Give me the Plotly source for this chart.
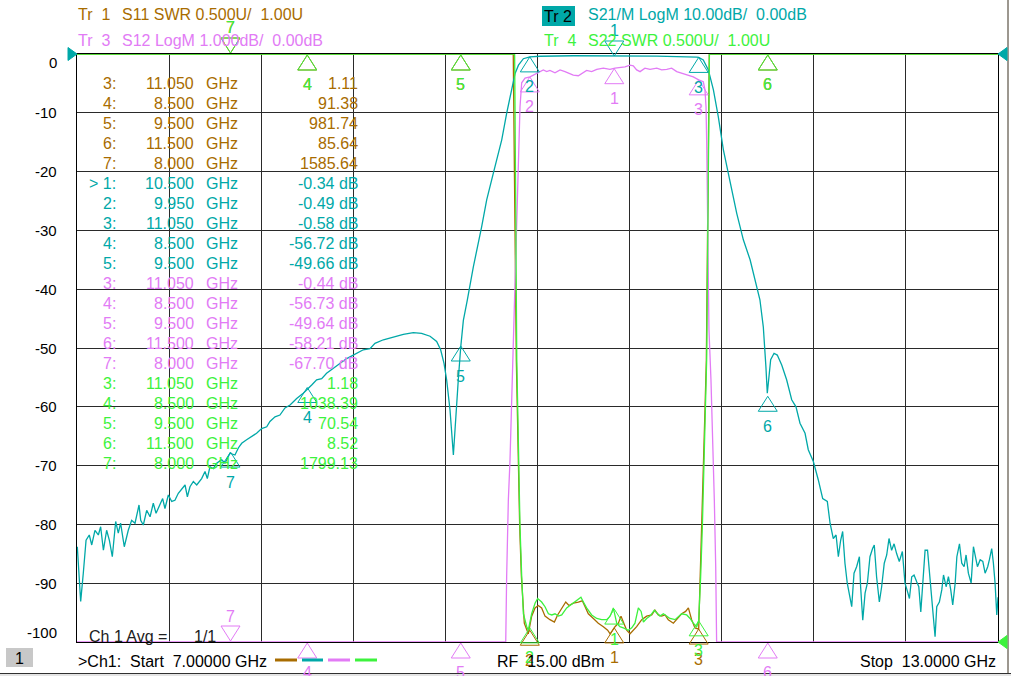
import plotly.graph_objects as go

# ---------------- data ----------------
# Tr2  S21 LogM (dB)
s21_freq = [7.002, 7.024, 7.041, 7.059, 7.080, 7.096, 7.117, 7.139, 7.154, 7.172, 7.193, 7.211, 7.230, 7.252,
            7.269, 7.284, 7.308, 7.334, 7.356, 7.378, 7.404, 7.415, 7.432, 7.454, 7.476, 7.497, 7.515, 7.536,
            7.558, 7.573, 7.595, 7.617, 7.638, 7.660, 7.682, 7.704, 7.719, 7.736, 7.758, 7.780, 7.812, 7.834,
            7.849, 7.866, 7.888, 7.910, 7.942, 7.964, 7.997, 8.029, 8.051, 8.073, 8.105, 8.138, 8.170, 8.203,
            8.236, 8.257, 8.290, 8.322, 8.355, 8.388, 8.431, 8.474, 8.507, 8.529, 8.561, 8.594, 8.626, 8.670,
            8.713, 8.757, 8.800, 8.865, 8.909, 8.941, 8.996, 9.061, 9.126, 9.191, 9.245, 9.300, 9.343, 9.369,
            9.391, 9.408, 9.430, 9.452, 9.469, 9.484, 9.500, 9.517, 9.543, 9.582, 9.636, 9.669, 9.712, 9.767,
            9.799, 9.832, 9.854, 9.876, 9.908, 9.950, 10.017, 10.234, 10.500, 10.777, 11.037, 11.050, 11.080,
            11.113, 11.146, 11.178, 11.211, 11.254, 11.298, 11.341, 11.385, 11.449, 11.471, 11.488, 11.497,
            11.506, 11.519, 11.541, 11.562, 11.591, 11.623, 11.656, 11.684, 11.710, 11.743, 11.764, 11.797,
            11.829, 11.858, 11.888, 11.906, 11.927, 11.945, 11.960, 11.975, 11.988, 12.003, 12.018, 12.031,
            12.047, 12.062, 12.079, 12.097, 12.105, 12.119, 12.134, 12.149, 12.166, 12.183, 12.194, 12.209,
            12.227, 12.242, 12.259, 12.275, 12.290, 12.307, 12.323, 12.340, 12.357, 12.377, 12.394, 12.410,
            12.423, 12.438, 12.453, 12.471, 12.484, 12.497, 12.514, 12.525, 12.541, 12.554, 12.569, 12.579,
            12.590, 12.601, 12.618, 12.634, 12.645, 12.662, 12.677, 12.692, 12.705, 12.721, 12.732, 12.749,
            12.764, 12.779, 12.792, 12.807, 12.825, 12.840, 12.853, 12.866, 12.884, 12.901, 12.916, 12.933,
            12.944, 12.959, 12.970, 12.981, 12.992, 13.000]
s21_db = [-83.8, -93.1, -88.3, -82.7, -81.8, -83.5, -81.0, -81.8, -80.4, -84.4, -81.0, -82.7, -85.5, -79.5,
          -81.5, -79.8, -83.8, -81.0, -79.3, -79.8, -76.7, -79.3, -80.1, -77.6, -78.7, -76.4, -78.1, -77.0,
          -75.6, -77.3, -75.0, -76.1, -75.9, -74.7, -73.9, -73.3, -75.3, -73.6, -72.7, -73.3, -72.2, -71.0,
          -72.2, -70.2, -70.5, -69.6, -69.0, -69.6, -67.9, -68.2, -67.0, -66.2, -65.6, -65.1, -64.5, -63.7,
          -63.4, -62.5, -61.7, -61.4, -60.2, -59.7, -58.6, -57.7, -56.9, -56.3, -55.4, -55.2, -54.3, -53.5,
          -52.6, -51.8, -51.2, -50.3, -50.1, -49.2, -48.6, -48.1, -47.7, -47.4, -47.5, -48.0, -48.9, -50.3,
          -52.6, -55.4, -60.5, -68.2, -60.5, -55.4, -49.8, -45.3, -41.8, -36.2, -29.4, -24.8, -20.3, -14.6,
          -10.1, -6.1, -3.3, -1.9, -0.8, -0.49, -0.38, -0.30, -0.34, -0.35, -0.52, -0.58, -1.0,
          -2.7, -6.1, -10.7, -16.3, -21.4, -27.1, -31.6, -35.0, -41.8, -46.4, -53.2, -57.7,
          -55.4, -52.0, -50.9, -51.2, -52.9, -55.4, -58.8, -60.0, -62.8, -64.5, -67.3, -69.3,
          -72.4, -75.6, -76.1, -79.8, -82.4, -81.8, -85.5, -82.7, -81.2, -86.6, -90.0, -91.7,
          -94.0, -88.3, -87.2, -85.5, -90.6, -96.3, -91.7, -90.0, -85.5, -84.1, -83.5, -88.9,
          -93.2, -90.6, -86.6, -85.2, -82.4, -84.4, -83.3, -85.0, -86.3, -84.6, -90.0, -91.4,
          -92.6, -88.9, -88.6, -89.8, -90.6, -94.9, -87.7, -84.4, -84.4, -88.3, -91.7, -94.6,
          -99.1, -94.0, -93.2, -91.1, -88.6, -90.6, -88.9, -91.1, -93.7, -90.0, -85.5, -83.3,
          -86.6, -87.2, -85.2, -88.3, -90.0, -83.8, -85.5, -87.2, -86.0, -86.3, -88.3, -87.2,
          -86.0, -84.1, -86.6, -90.0, -95.4, -92.4]

# Tr3  S12 LogM (dB), shown at 1 dB/div
s12_freq = [7.000, 8.000, 8.500, 9.500, 9.793, 9.799, 9.810, 9.821, 9.832, 9.840, 9.855, 9.871, 9.886,
            9.897, 9.919, 9.951, 9.995, 10.016, 10.038, 10.060, 10.081, 10.114, 10.147, 10.179, 10.212,
            10.233, 10.266, 10.288, 10.320, 10.353, 10.386, 10.429, 10.472, 10.505, 10.537, 10.570, 10.603,
            10.624, 10.646, 10.668, 10.700, 10.733, 10.777, 10.809, 10.842, 10.874, 10.907, 10.939, 10.972,
            11.015, 11.050, 11.080, 11.091, 11.098, 11.102, 11.106, 11.111, 11.117, 11.130, 11.145, 11.152,
            11.161, 11.167, 11.500, 13.000]
s12_db = [-84.0, -67.70, -56.73, -49.64, -10.0, -8.89, -7.59, -6.90, -5.83, -5.29, -3.72, -2.02, -0.90,
          -0.49, -0.41, -0.39, -0.33, -0.30, -0.27, -0.30, -0.28, -0.32, -0.27, -0.30, -0.33,
          -0.36, -0.37, -0.33, -0.28, -0.30, -0.26, -0.24, -0.26, -0.24, -0.23, -0.22, -0.19,
          -0.20, -0.27, -0.30, -0.24, -0.26, -0.24, -0.27, -0.26, -0.24, -0.30, -0.33, -0.36,
          -0.39, -0.44, -0.47, -0.61, -0.90, -1.46, -2.60, -3.72, -4.69, -5.54, -6.73, -7.59,
          -8.72, -10.0, -58.21, -90.0]

# Tr1  S11 SWR
s11_freq = [7.000, 8.000, 8.500, 9.500, 9.842, 9.862, 9.873, 9.884, 9.895, 9.914, 9.940, 9.962, 9.984,
            10.005, 10.027, 10.049, 10.081, 10.110, 10.131, 10.158, 10.184, 10.205, 10.234, 10.266, 10.292,
            10.310, 10.331, 10.364, 10.396, 10.429, 10.457, 10.473, 10.488, 10.505, 10.527, 10.544, 10.559,
            10.581, 10.603, 10.625, 10.646, 10.679, 10.711, 10.744, 10.765, 10.787, 10.809, 10.831, 10.852,
            10.885, 10.913, 10.939, 10.965, 10.983, 11.004, 11.026, 11.050, 11.056, 11.065, 11.080, 11.091,
            11.100, 11.119, 11.500, 13.000]
s11_swr = [800.0, 1585.64, 91.38, 981.74, 6.0, 3.40, 2.55, 1.98, 1.56, 1.16, 1.07, 1.22, 1.29,
           1.31, 1.29, 1.22, 1.19, 1.17, 1.23, 1.29, 1.34, 1.31, 1.33, 1.34, 1.35,
           1.30, 1.24, 1.20, 1.16, 1.13, 1.10, 1.07, 1.10, 1.13, 1.16, 1.22, 1.17,
           1.10, 1.07, 1.10, 1.13, 1.19, 1.22, 1.23, 1.27, 1.23, 1.22, 1.23, 1.19,
           1.16, 1.20, 1.24, 1.26, 1.29, 1.19, 1.12, 1.11, 1.36, 1.84, 2.41, 2.97,
           3.40, 6.0, 85.64, 300.0]

# Tr4  S22 SWR
s22_freq = [7.000, 8.000, 8.500, 9.500, 9.851, 9.865, 9.875, 9.886, 9.897, 9.908, 9.930, 9.940, 9.962,
            9.984, 10.001, 10.027, 10.049, 10.071, 10.093, 10.114, 10.136, 10.158, 10.190, 10.212, 10.244,
            10.266, 10.283, 10.299, 10.320, 10.353, 10.386, 10.418, 10.451, 10.473, 10.494, 10.516, 10.537,
            10.559, 10.592, 10.614, 10.635, 10.657, 10.675, 10.690, 10.711, 10.733, 10.761, 10.783, 10.798,
            10.820, 10.842, 10.863, 10.896, 10.918, 10.939, 10.972, 10.994, 11.015, 11.037, 11.050, 11.058,
            11.063, 11.074, 11.085, 11.096, 11.102, 11.120, 11.500, 13.000]
s22_swr = [900.0, 1799.13, 1038.39, 70.54, 6.0, 3.40, 2.55, 1.98, 1.56, 1.24, 1.13, 1.10, 1.24,
           1.33, 1.37, 1.34, 1.30, 1.24, 1.23, 1.24, 1.22, 1.23, 1.29, 1.31, 1.34,
           1.36, 1.38, 1.34, 1.29, 1.23, 1.20, 1.19, 1.19, 1.22, 1.29, 1.16, 1.13,
           1.12, 1.10, 1.12, 1.16, 1.29, 1.26, 1.17, 1.20, 1.22, 1.27, 1.24, 1.22,
           1.24, 1.22, 1.20, 1.19, 1.22, 1.24, 1.23, 1.20, 1.16, 1.13, 1.18, 1.35,
           1.56, 1.98, 2.46, 3.03, 3.40, 6.0, 8.52, 200.0]

# markers: ids, frequencies (GHz) and values per trace
mk_ids = [1, 2, 3, 4, 5, 6, 7]
mk_freq = [10.5, 9.95, 11.05, 8.5, 9.5, 11.5, 8.0]
mk_s11 = [1.12, 1.10, 1.11, 91.38, 981.74, 85.64, 1585.64]
mk_s21 = [-0.34, -0.49, -0.58, -56.72, -49.66, -58.21, -67.70]
mk_s12 = [-0.25, -0.39, -0.44, -56.73, -49.64, -58.21, -67.70]
mk_s22 = [1.28, 1.12, 1.18, 1038.39, 70.54, 8.52, 1799.13]

# marker table (text readout)
tab_s11 = [("3:", "11.050", "1.11"), ("4:", "8.500", "91.38"), ("5:", "9.500", "981.74"),
           ("6:", "11.500", "85.64"), ("7:", "8.000", "1585.64")]
tab_s21 = [("> 1:", "10.500", "-0.34 dB"), ("2:", "9.950", "-0.49 dB"), ("3:", "11.050", "-0.58 dB"),
           ("4:", "8.500", "-56.72 dB"), ("5:", "9.500", "-49.66 dB")]
tab_s12 = [("3:", "11.050", "-0.44 dB"), ("4:", "8.500", "-56.73 dB"), ("5:", "9.500", "-49.64 dB"),
           ("6:", "11.500", "-58.21 dB"), ("7:", "8.000", "-67.70 dB")]
tab_s22 = [("3:", "11.050", "1.18"), ("4:", "8.500", "1038.39"), ("5:", "9.500", "70.54"),
           ("6:", "11.500", "8.52"), ("7:", "8.000", "1799.13")]

y_ticks = [0, -10, -20, -30, -40, -50, -60, -70, -80, -90, -100]
y_tick_labels = ["0", "-10", "-20", "-30", "-40", "-50", "-60", "-70", "-80", "-90", "-100"]

# ---------------- style ----------------
C_S11 = "#A86C00"
C_S21 = "#00A8A8"
C_S12 = "#E27BF5"
C_S22 = "#3DF23D"
GRID = "#2A2A2A"
FONT = "Liberation Sans, Arial, sans-serif"

W, H = 1011, 676
L, R, T, B = 77, 13, 54, 34
PW, PH = W - L - R, H - T - B
X0, X1 = 7.0, 13.0
Y0, Y1 = -100.0, 0.0


def clip(v):
    return max(Y0, min(Y1, v))


def swr_raw(v):
    return Y0 + (v - 1.0) / 0.5 * 10.0      # 0.5 U/div, 1.00 U at bottom


def s12_raw(v):
    return v * 10.0                          # 1 dB/div on a 10 dB/div grid


def s21_raw(v):
    return v


def paper_x(px):
    return (px - L) / PW


def paper_y(py):
    return (T + PH - py) / PH


def yfrac(v):
    return (v - Y0) / (Y1 - Y0)


fig = go.Figure()

for fr, vals, fn, col in [(s11_freq, s11_swr, swr_raw, C_S11),
                          (s21_freq, s21_db, s21_raw, C_S21),
                          (s12_freq, s12_db, s12_raw, C_S12),
                          (s22_freq, s22_swr, swr_raw, C_S22)]:
    fig.add_trace(go.Scatter(x=fr, y=[clip(fn(v)) for v in vals], mode="lines",
                             line=dict(color=col, width=1.3), cliponaxis=False,
                             hoverinfo="skip", showlegend=False))

shapes = []
annotations = []

TW, TH = 9.5, 15


def tri(f, yp, col, down=False, off=0):
    if down:   # triangle above apex, pointing down
        path = f"M0,{off} L{-TW},{off + TH} L{TW},{off + TH} Z"
    else:      # triangle below apex, pointing up
        path = f"M0,{off} L{-TW},{off - TH} L{TW},{off - TH} Z"
    shapes.append(dict(type="path", xref="x", yref="paper", xsizemode="pixel", ysizemode="pixel",
                       xanchor=f, yanchor=yp, path=path, line=dict(color=col, width=1),
                       fillcolor="rgba(0,0,0,0)", layer="above"))


def mlabel(f, yp, txt, col, shift):
    annotations.append(dict(text=txt, xref="x", yref="paper", x=f, y=yp, yshift=shift,
                            xanchor="center", yanchor="middle",
                            showarrow=False, font=dict(family=FONT, size=16, color=col)))


def draw_markers(vals, fn, col, inverted):
    for mid, f, v in zip(mk_ids, mk_freq, vals):
        yp = yfrac(fn(v))
        # off-scale markers are pinned to the edge of the grid
        if yp >= 1.0 and mid not in inverted:
            tri(f, 1.0, col, down=False, off=-1)
            mlabel(f, 1.0, str(mid), col, -30)
        elif yp >= 1.0:
            tri(f, 1.0, col, down=True, off=1)
            mlabel(f, 1.0, str(mid), col, 27)
        elif yp <= 0.0 and mid not in inverted:
            tri(f, 0.0, col, down=False, off=-1)
            mlabel(f, 0.0, str(mid), col, -30)
        elif yp <= 0.0:
            tri(f, 0.0, col, down=True, off=1)
            mlabel(f, 0.0, str(mid), col, 26)
        elif mid in inverted:
            tri(f, yp, col, down=True)
            mlabel(f, yp, str(mid), col, 25)
        else:
            tri(f, yp, col, down=False)
            mlabel(f, yp, str(mid), col, -30)


draw_markers(mk_s11, swr_raw, C_S11, inverted={7})
draw_markers(mk_s12, s12_raw, C_S12, inverted={7})
draw_markers(mk_s21, s21_raw, C_S21, inverted={1})
draw_markers(mk_s22, swr_raw, C_S22, inverted={7})


def ptext(txt, xpx, ypx, col, size=16, anchor="left"):
    annotations.append(dict(text=txt, xref="paper", yref="paper", x=paper_x(xpx), y=paper_y(ypx),
                            xanchor=anchor, yanchor="middle", showarrow=False,
                            font=dict(family=FONT, size=size, color=col)))


# y axis labels
for i, (yv, lab) in enumerate(zip(y_ticks, y_tick_labels)):
    ypx = T + (Y1 - yv) / (Y1 - Y0) * PH
    if i == 0:
        ypx += 9
    elif i == len(y_ticks) - 1:
        ypx -= 10
    ptext(lab, 59, ypx, "#000000", size=15, anchor="right")

# header
NB = "\u00a0"
ptext(f"Tr{NB}{NB}1", 76, 15, C_S11)
ptext(f"S11 SWR 0.500U/{NB}{NB}1.00U", 120, 15, C_S11)
ptext(f"Tr{NB}{NB}3", 76, 41, C_S12)
ptext(f"S12 LogM 1.000dB/{NB}{NB}0.00dB", 120, 41, C_S12)
shapes.append(dict(type="rect", xref="paper", yref="paper", x0=paper_x(542), x1=paper_x(575),
                   y0=paper_y(26), y1=paper_y(6), fillcolor=C_S21, line=dict(width=0), layer="below"))
ptext(f"Tr{NB}2", 542, 16, "#000000")
ptext(f"S21/M LogM 10.00dB/{NB}{NB}0.00dB", 586, 15, C_S21)
ptext(f"Tr{NB}{NB}4", 542, 41, C_S22)
ptext(f"S22 SWR 0.500U/{NB}{NB}1.00U", 586, 41, C_S22)

# marker table
row = 0
for tab, col in [(tab_s11, C_S11), (tab_s21, C_S21), (tab_s12, C_S12), (tab_s22, C_S22)]:
    for idx, fq, val in tab:
        ypx = 83.3 + 20 * row
        ptext(idx, 118, ypx, col, anchor="right")
        ptext(fq, 196, ypx, col, anchor="right")
        ptext("GHz", 204, ypx, col)
        ptext(val, 360, ypx, col, anchor="right")
        row += 1

# in-grid status text
ptext(f"Ch 1 Avg ={NB}", 87, 636, "#202020")
ptext("1/1", 192, 636, "#202020")

# bottom status bar
shapes.append(dict(type="rect", xref="paper", yref="paper", x0=paper_x(6), x1=paper_x(33),
                   y0=paper_y(667), y1=paper_y(648), fillcolor="#C8C8C8", line=dict(width=0)))
ptext("1", 19.5, 658, "#000000", anchor="center")
ptext(f">Ch1:{NB}{NB}Start{NB}{NB}7.00000 GHz", 76, 661, "#000000")
ptext(f"RF{NB}{NB}15.00 dBm", 495, 661, "#000000")
ptext(f"Stop{NB}{NB}13.0000 GHz", 998, 661, "#000000", anchor="right")
for (a, b), col in zip([(275, 297), (302, 323), (328, 350), (355, 377)], [C_S11, C_S21, C_S12, C_S22]):
    shapes.append(dict(type="line", xref="paper", yref="paper", x0=paper_x(a), x1=paper_x(b),
                       y0=paper_y(660), y1=paper_y(660), line=dict(color=col, width=3)))

# window frame lines
shapes.append(dict(type="line", xref="paper", yref="paper", x0=paper_x(1008), x1=paper_x(1008),
                   y0=paper_y(673), y1=paper_y(0), line=dict(color="#3A3020", width=1)))
shapes.append(dict(type="rect", xref="paper", yref="paper", x0=paper_x(0), x1=paper_x(1011),
                   y0=paper_y(676), y1=paper_y(674), fillcolor="#E4E4E4", line=dict(width=0)))
shapes.append(dict(type="line", xref="paper", yref="paper", x0=paper_x(0), x1=paper_x(1011),
                   y0=paper_y(673.5), y1=paper_y(673.5), line=dict(color="#303030", width=1)))

# reference level arrows
for xa, ya, sign, col in [(0.0, 1.0, 1, C_S21), (1.0, 1.0, -1, C_S21), (1.0, 0.0, -1, C_S22)]:
    shapes.append(dict(type="path", xref="paper", yref="paper", xsizemode="pixel", ysizemode="pixel",
                       xanchor=xa, yanchor=ya,
                       path=f"M0,0 L{-9 * sign},6.5 L{-9 * sign},-6.5 Z",
                       fillcolor=col, line=dict(color=col, width=1)))

fig.update_layout(
    width=W, height=H,
    margin=dict(l=L, r=R, t=T, b=B, pad=0),
    paper_bgcolor="white", plot_bgcolor="white",
    showlegend=False,
    shapes=shapes, annotations=annotations,
    xaxis=dict(range=[X0, X1], tick0=7.0, dtick=0.6, showticklabels=False, ticks="",
               showgrid=True, gridcolor=GRID, gridwidth=1, zeroline=False,
               showline=True, linecolor="#000000", linewidth=1, mirror=True, layer="below traces"),
    yaxis=dict(range=[Y0, Y1], tick0=0, dtick=10, showticklabels=False, ticks="",
               showgrid=True, gridcolor=GRID, gridwidth=1, zeroline=False,
               showline=True, linecolor="#000000", linewidth=1, mirror=True, layer="below traces"),
)

fig.write_html("out.html", config={"displayModeBar": False},
               post_script="document.body.style.margin='0';document.body.style.overflow='hidden';")
